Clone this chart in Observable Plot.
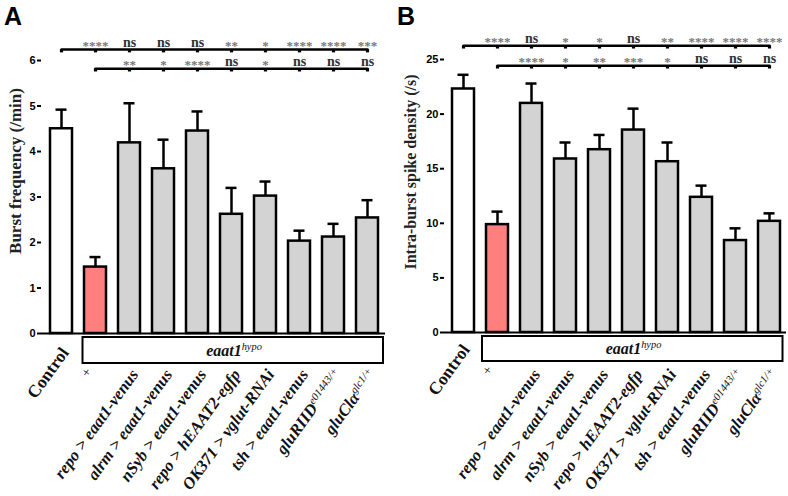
<!DOCTYPE html>
<html><head><meta charset="utf-8">
<script src="https://cdn.jsdelivr.net/npm/d3@7"></script>
<script src="https://cdn.jsdelivr.net/npm/@observablehq/plot@0.6"></script>
<style>
body{margin:0;background:#fff;}
#wrap{position:relative;width:788px;height:496px;overflow:hidden;background:#fff;}
.panel{position:absolute;top:0;}
.letter{position:absolute;top:0;font:bold 25px "Liberation Sans",Arial,sans-serif;line-height:32px;color:#000;}
</style></head><body><div id="wrap"></div>
<script>
// ---- data ----
const genotypes = ["Control","+","repo > eaat1-venus","alrm > eaat1-venus","nSyb > eaat1-venus","repo > hEAAT2-egfp","OK371 > vglut-RNAi","tsh > eaat1-venus","gluRIID^e01443/+","gluClα^glc1/+"];
const groups = ["control","mutant","rescue","rescue","rescue","rescue","rescue","rescue","rescue","rescue"];
const boxLabel = "eaat1^hypo";

const burstFreq    = [4.50, 1.46, 4.19, 3.62, 4.45, 2.62, 3.02, 2.03, 2.12, 2.54];
const burstFreqSem = [0.42, 0.22, 0.87, 0.64, 0.43, 0.58, 0.32, 0.23, 0.29, 0.39];
const spikeDensity    = [22.3, 9.88, 20.98, 15.89, 16.74, 18.54, 15.64, 12.38, 8.42, 10.18];
const spikeDensitySem = [1.30, 1.19, 1.82, 1.51, 1.35, 1.96, 1.76, 1.07, 1.12, 0.73];

const sigA_vsControl = ["****","ns","ns","ns","**","*","****","****","***"];
const sigA_vsMutant  = ["**","*","****","ns","*","ns","ns","ns"];
const sigB_vsControl = ["****","ns","*","*","ns","**","****","****","****"];
const sigB_vsMutant  = ["****","*","**","***","*","ns","ns","ns"];

const yTicksA = [0,1,2,3,4,5,6];
const yTicksB = [0,5,10,15,20,25];
const bracketLevelsA = [6.24, 5.82];
const bracketLevelsB = [26.26, 24.43];

const SERIF = "Liberation Serif, 'Times New Roman', serif";
const SANS = "Liberation Sans, Arial, sans-serif";

function makePanel(cfg) {
  const {values, sems, yLabel, yDomain, yTicks, levels, sigCtrl, sigMut,
         marginLeft, marginRight, marginTop, marginBottom, xRange,
         yLabelDx, yLabelDy, yLabelSize, ctrlDx, ctrlDy, plusDx, plusDy, labDx, labDy,
         boxDx, boxDy, boxTop, boxBottom, boxLeft, boxRight} = cfg;
  const rows = genotypes.map((g, i) => ({g, group: groups[i], v: values[i], top: values[i] + sems[i]}));
  const br1 = genotypes.map(g => ({g, y: levels[0]}));
  const br2 = genotypes.slice(1).map(g => ({g, y: levels[1]}));
  const sig = [
    ...sigCtrl.map((s, i) => ({g: genotypes[i + 1], y: levels[0], s})),
    ...sigMut.map((s, i) => ({g: genotypes[i + 2], y: levels[1], s}))
  ];
  return Plot.plot({
    width: 394, height: 496, marginLeft, marginRight, marginTop, marginBottom,
    style: {background: "transparent", color: "#000", overflow: "visible"},
    x: {domain: genotypes, range: xRange, paddingInner: 0.36, paddingOuter: 0.18, axis: null},
    y: {domain: yDomain, axis: null},
    color: {domain: ["control","mutant","rescue"], range: ["#ffffff","#ff7f7f","#d3d3d3"]},
    marks: [
      Plot.axisY({ticks: yTicks, tickSize: 4, tickPadding: 2, tickFormat: d => String(d), fontSize: 11, fontWeight: "bold",
                  fontFamily: SANS, strokeWidth: 2, label: null, line: true, fill: "#000"}),
      Plot.text([yLabel], {frameAnchor: "left", textAnchor: "middle", lineAnchor: "middle", rotate: -90,
                  dx: yLabelDx, dy: yLabelDy,
                  fontFamily: SERIF, fontWeight: "bold", fontSize: yLabelSize, fill: "#222"}),
      // error bars
      Plot.ruleX(rows, {x: "g", y1: "v", y2: "top", strokeWidth: 2.5}),
      Plot.tickY(rows, {x: "g", y: "top", strokeWidth: 2.5, insetLeft: 5.5, insetRight: 5.5}),
      // bars
      Plot.barY(rows, {x: "g", y: "v", fill: "group", stroke: "#000", strokeWidth: 2.5}),
      Plot.ruleY([0], {strokeWidth: 2}),
      // brackets
      Plot.line(br1, {x: "g", y: "y", strokeWidth: 2.5}),
      Plot.dot(br1, {x: "g", y: "y", symbol: "square", r: 1.8, fill: "#000", dy: 1.2}),
      Plot.line(br2, {x: "g", y: "y", strokeWidth: 2.5}),
      Plot.dot(br2, {x: "g", y: "y", symbol: "square", r: 1.8, fill: "#000", dy: 1.2}),
      Plot.text(sig.filter(d => d.s === "ns"), {x: "g", y: "y", text: "s", lineAnchor: "bottom", dy: -3,
                  fontFamily: SERIF, fontWeight: "bold", fontSize: 14, fill: "#333"}),
      Plot.text(sig.filter(d => d.s !== "ns"), {x: "g", y: "y", text: "s", lineAnchor: "bottom", dy: 0,
                  fontFamily: SERIF, fontWeight: "bold", fontSize: 13, fill: "#777"}),
      // genotype box
      Plot.rect([0], {x1: () => genotypes[1], x2: () => genotypes[genotypes.length - 1], y1: 0, y2: 0,
                  insetTop: boxTop, insetBottom: boxBottom, insetLeft: boxLeft, insetRight: boxRight,
                  fill: "#fff", stroke: "#000", strokeWidth: 2}),
      Plot.text([boxLabel], {x: () => genotypes[5], y: 0, dx: boxDx, dy: boxDy,
                  fontFamily: SERIF, fontWeight: "bold", fontStyle: "italic", fontSize: 16, fill: "#111"}),
      // x labels
      Plot.text(genotypes.slice(0, 1), {x: d => d, y: 0, rotate: -54, textAnchor: "end", lineAnchor: "top",
                  dx: ctrlDx, dy: ctrlDy, fontFamily: SERIF, fontWeight: "bold", fontSize: 17.5, fill: "#111"}),
      Plot.text(genotypes.slice(1, 2), {x: d => d, y: 0, rotate: -54, dx: plusDx, dy: plusDy,
                  fontFamily: SERIF, fontSize: 14, fill: "#111"}),
      Plot.text(genotypes.slice(2), {x: d => d, y: 0, rotate: -54, textAnchor: "end", lineAnchor: "top",
                  dx: labDx, dy: labDy, fontFamily: SERIF, fontWeight: "bold", fontStyle: "italic", fontSize: 16.6, fill: "#111"})
    ]
  });
}

function richify(svg) {
  d3.select(svg).selectAll("text").each(function () {
    const t = this.textContent;
    if (!t.includes("^")) return;
    const [base, sup] = t.split("^");
    const sel = d3.select(this);
    sel.text(null);
    sel.append("tspan").text(base);
    sel.append("tspan").attr("dy", "-0.55em").attr("font-size", "0.65em")
       .attr("font-weight", "normal").text(sup);
  });
}

const wrap = document.getElementById("wrap");
const A = makePanel({
  values: burstFreq, sems: burstFreqSem, yLabel: "Burst frequency (/min)", yDomain: [0, 6], yTicks: yTicksA,
  levels: bracketLevelsA, sigCtrl: sigA_vsControl, sigMut: sigA_vsMutant,
  marginLeft: 41, marginRight: 9, marginTop: 60, marginBottom: 163, xRange: [43, 384],
  yLabelDx: -26, yLabelDy: -26, yLabelSize: 17,
  ctrlDx: -2, ctrlDy: 12, plusDx: -9, plusDy: 39, labDx: 0, labDy: 34,
  boxDx: 2.5, boxDy: 17, boxTop: 4, boxBottom: -30, boxLeft: -1.5, boxRight: -5
});
const B = makePanel({
  values: spikeDensity, sems: spikeDensitySem, yLabel: "Intra-burst spike density (/s)", yDomain: [0, 25], yTicks: yTicksB,
  levels: bracketLevelsB, sigCtrl: sigB_vsControl, sigMut: sigB_vsMutant,
  marginLeft: 50, marginRight: 2, marginTop: 59, marginBottom: 164, xRange: [50.4, 392.6],
  yLabelDx: -34, yLabelDy: -24, yLabelSize: 16,
  ctrlDx: -3, ctrlDy: 10, plusDx: -10, plusDy: 38, labDx: 0, labDy: 35,
  boxDx: 0, boxDy: 16.5, boxTop: 4, boxBottom: -29, boxLeft: -4, boxRight: -2.5
});
[A, B].forEach((p, i) => {
  richify(p);
  p.classList.add("panel");
  p.style.left = (i * 394) + "px";
  wrap.appendChild(p);
});
["A", "B"].forEach((L, i) => {
  const d = document.createElement("div");
  d.className = "letter";
  d.textContent = L;
  d.style.left = (i === 0 ? 4 : 397) + "px";
  wrap.appendChild(d);
});
</script>
</body></html>
